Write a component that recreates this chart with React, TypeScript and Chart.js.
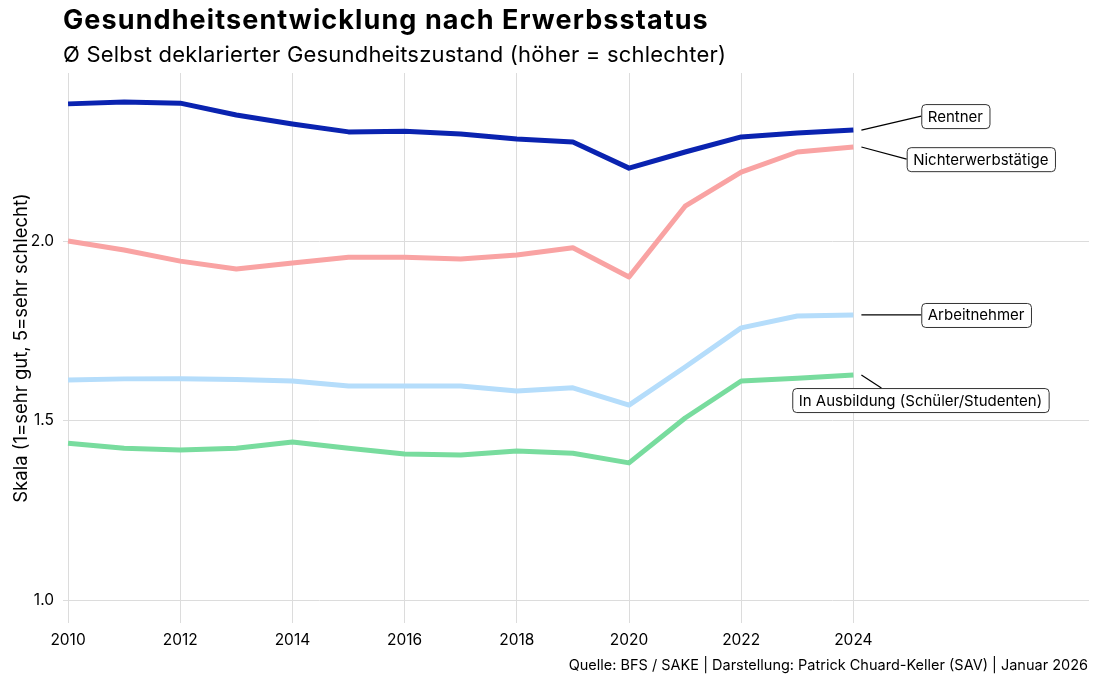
import React, { useEffect, useRef } from "react";
import { Chart, registerables } from "chart.js";

Chart.register(...registerables);

const years = [2010, 2011, 2012, 2013, 2014, 2015, 2016, 2017, 2018, 2019, 2020, 2021, 2022, 2023, 2024];
const rentner = [2.382, 2.387, 2.384, 2.351, 2.326, 2.304, 2.306, 2.298, 2.284, 2.276, 2.203, 2.248, 2.29, 2.301, 2.309];
const nichterwerb = [2.0, 1.975, 1.944, 1.922, 1.939, 1.955, 1.955, 1.95, 1.961, 1.981, 1.9, 2.097, 2.192, 2.248, 2.262];
const arbeitnehmer = [1.613, 1.616, 1.616, 1.614, 1.61, 1.596, 1.596, 1.596, 1.582, 1.591, 1.543, 1.649, 1.758, 1.791, 1.794];
const ausbildung = [1.437, 1.423, 1.418, 1.423, 1.44, 1.423, 1.407, 1.404, 1.415, 1.409, 1.382, 1.507, 1.61, 1.618, 1.627];

const xTicks = [2010, 2012, 2014, 2016, 2018, 2020, 2022, 2024];
const yTicks = [1.0, 1.5, 2.0];

const seriesNames = ["Rentner", "Nichterwerbstätige", "Arbeitnehmer", "In Ausbildung (Schüler/Studenten)"];
const seriesColors = ["#0a23b0", "#f9a3a3", "#b5ddfb", "#78dc9e"];

const FONT = "Inter, 'Noto Sans', sans-serif";

// label box placement (layout): box left in x-units, box center in y-units, leader end mode
const labelLayout = [
  { boxX: 2025.21, boxY: 2.348, attach: "left" },
  { boxX: 2024.95, boxY: 2.228, attach: "left" },
  { boxX: 2025.21, boxY: 1.794, attach: "left" },
  { boxX: 2022.91, boxY: 1.557, attach: "top" },
];

const annotPlugin = {
  id: "annot",
  afterDraw(chart: any) {
    const { ctx, scales } = chart;
    const xs = scales.x;
    const ys = scales.y;
    ctx.save();
    ctx.fillStyle = "#000";
    ctx.textAlign = "left";
    ctx.textBaseline = "alphabetic";
    ctx.font = `bold 27px ${FONT}`;
    (ctx as any).letterSpacing = "1.1px";
    ctx.fillText("Gesundheitsentwicklung nach Erwerbsstatus", 63, 29);
    ctx.font = `22px ${FONT}`;
    (ctx as any).letterSpacing = "0.2px";
    ctx.fillText("Ø Selbst deklarierter Gesundheitszustand (höher = schlechter)", 63, 62);
    (ctx as any).letterSpacing = "0px";
    ctx.font = `14.5px ${FONT}`;
    ctx.textAlign = "right";
    ctx.textBaseline = "middle";
    ctx.fillText("Quelle: BFS / SAKE | Darstellung: Patrick Chuard-Keller (SAV) | Januar 2026", 1088, 666);

    const datasets = chart.data.datasets;
    ctx.font = `15px ${FONT}`;
    labelLayout.forEach((lab, i) => {
      const ds = datasets[i];
      const last = ds.data[ds.data.length - 1];
      const px = xs.getPixelForValue(last.x) + 8;
      const py = ys.getPixelForValue(last.y);
      const text = seriesNames[i];
      const tw = ctx.measureText(text).width;
      const bx = xs.getPixelForValue(lab.boxX);
      const by = ys.getPixelForValue(lab.boxY);
      const bw = tw + 13;
      const bh = 24;
      const top = by - bh / 2;
      let ex = bx;
      let ey = by;
      if (lab.attach === "top") {
        ex = px + 20;
        ey = top;
      }
      ctx.strokeStyle = "#000";
      ctx.lineWidth = 1.2;
      ctx.beginPath();
      ctx.moveTo(px, py);
      ctx.lineTo(ex, ey);
      ctx.stroke();
      ctx.fillStyle = "#fff";
      ctx.strokeStyle = "#333";
      ctx.lineWidth = 1;
      ctx.beginPath();
      (ctx as any).roundRect(bx + 0.5, top + 0.5, bw, bh, 4);
      ctx.fill();
      ctx.stroke();
      ctx.fillStyle = "#000";
      ctx.textAlign = "left";
      ctx.textBaseline = "middle";
      ctx.fillText(text, bx + 6.5, by + 1);
    });
    ctx.restore();
  },
};

export default function App() {
  const ref = useRef<HTMLCanvasElement | null>(null);
  useEffect(() => {
    if (!ref.current) return;
    const all = [rentner, nichterwerb, arbeitnehmer, ausbildung];
    const chart = new Chart(ref.current, {
      type: "line",
      data: {
        datasets: all.map((vals, i) => ({
          label: seriesNames[i],
          data: vals.map((v, j) => ({ x: years[j], y: v })),
          borderColor: seriesColors[i],
          backgroundColor: seriesColors[i],
          borderWidth: 5,
          pointRadius: 0,
          tension: 0,
          borderJoinStyle: "round" as const,
          borderCapStyle: "butt" as const,
        })),
      },
      options: {
        animation: false,
        responsive: false,
        maintainAspectRatio: false,
        layout: { padding: { top: 73, right: 6, left: 0, bottom: 0 } },
        plugins: { legend: { display: false }, tooltip: { enabled: false }, title: { display: false } },
        scales: {
          x: {
            type: "linear",
            min: 2009.91,
            max: 2028.2,
            afterBuildTicks: (s: any) => {
              s.ticks = xTicks.map((v) => ({ value: v }));
            },
            afterFit: (s: any) => {
              s.height = 60;
            },
            ticks: {
              autoSkip: false,
              maxRotation: 0,
              padding: 8,
              color: "#000",
              font: { family: FONT, size: 15.5 },
              callback: (v: any) => String(v),
            },
            grid: { color: "#dcdcdc", lineWidth: 1, drawTicks: false },
            border: { display: false },
          },
          y: {
            type: "linear",
            min: 0.936,
            max: 2.468,
            afterBuildTicks: (s: any) => {
              s.ticks = yTicks.map((v) => ({ value: v }));
            },
            afterFit: (s: any) => {
              s.width = 63;
            },
            ticks: {
              padding: 9,
              color: "#000",
              font: { family: FONT, size: 15.5 },
              callback: (v: any) => Number(v).toFixed(1),
            },
            grid: { color: "#dcdcdc", lineWidth: 1, drawTicks: false },
            border: { display: false },
            title: {
              display: true,
              text: "Skala (1=sehr gut, 5=sehr schlecht)",
              color: "#000",
              font: { family: FONT, size: 18.5 },
              padding: { top: 10, bottom: 0 },
            },
          },
        },
      },
      plugins: [annotPlugin],
    });
    return () => chart.destroy();
  }, []);
  return (
    <div style={{ position: "fixed", left: 0, top: 0, width: 1095, height: 683, background: "#fff" }}>
      <canvas ref={ref} width={1095} height={683} style={{ width: 1095, height: 683 }} />
    </div>
  );
}
